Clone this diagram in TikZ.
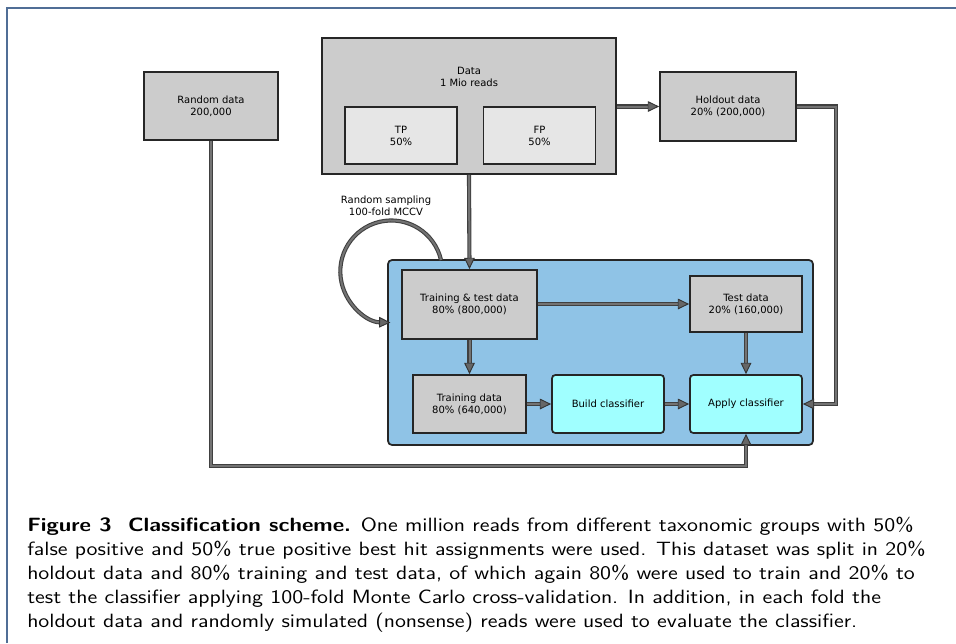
\documentclass[tikz,border=0pt]{standalone}
\usepackage{fontspec}
\usepackage{xcolor}
\newfontfamily\diagfont{DejaVu Sans}
\usetikzlibrary{arrows.meta,calc}
\definecolor{boxgray}{RGB}{204,204,204}
\definecolor{lightgray}{RGB}{230,230,230}
\definecolor{cvblue}{RGB}{143,195,230}
\definecolor{clscyan}{RGB}{160,255,255}
\definecolor{framecol}{RGB}{80,110,150}
\newdimen\px \px=0.75pt

\begin{document}
\begin{tikzpicture}[x=0.75pt,y=-0.75pt,
box/.style={draw=black!85,line width=1.3pt,fill=boxgray,inner sep=0pt,align=center,font=\diagfont\fontsize{7.5}{9}\selectfont},
subbox/.style={box,fill=lightgray},
clsbox/.style={box,fill=clscyan,rounded corners=2.5pt},
flow/.style={draw=black!75,line width=0.8pt,double=black!55,double distance=1.5pt,-{Triangle[length=8.5pt,width=8pt,fill=black!60,color=black!80,line width=0.7pt]}},
caption/.style={anchor=base west,inner sep=0pt,font=\sffamily\fontsize{14.4}{18}\selectfont}]
\useasboundingbox (0,0) rectangle (956,643);
\draw[framecol,line width=0.8pt] (7,643) -- (7,8) -- (956,8);

\node[box,minimum width=134\px,minimum height=68\px] (rnd) at (211,106) {Random data\\200,000};
\node[box,minimum width=294\px,minimum height=136\px] (data) at (469,106) {};
\node[font=\diagfont\fontsize{7.5}{9}\selectfont,align=center] (datalbl) at (469,77) {Data\\1 Mio reads};
\node[subbox,minimum width=112\px,minimum height=57\px] (tp) at (401,135.5) {TP\\50\%};
\node[subbox,minimum width=112\px,minimum height=57\px] (fp) at (539.5,135.5) {FP\\50\%};
\node[box,minimum width=136\px,minimum height=69\px] (hold) at (728,106.5) {Holdout data\\20\% (200,000)};

\node[draw=black!85,line width=1.3pt,fill=cvblue,rounded corners=3pt,minimum width=425\px,minimum height=185\px] (cv) at (600.5,352.5) {};
\node[box,minimum width=135\px,minimum height=69\px] (tt) at (469.5,304.5) {Training \& test data\\80\% (800,000)};
\node[box,minimum width=112\px,minimum height=56\px] (test) at (746,304) {Test data\\20\% (160,000)};
\node[box,minimum width=113\px,minimum height=58\px] (train) at (469.5,404) {Training data\\80\% (640,000)};
\node[clsbox,minimum width=112\px,minimum height=58\px] (build) at (608,404) {Build classifier};
\node[clsbox,minimum width=112\px,minimum height=58\px] (apply) at (746,404) {Apply classifier};

\node[font=\diagfont\fontsize{7.5}{9}\selectfont,align=center] (mccv) at (386,206) {Random sampling\\100-fold MCCV};
\coordinate (loopstart) at (441,260);

\draw[flow] (data.south) -- (tt.north);
\draw[flow] (data.east |- hold.west) -- (hold.west);
\draw[flow] (hold.east) -- ++(39,0) |- (apply.east);
\draw[flow] (rnd.south) -- ++(0,325) -| (apply.south);
\draw[flow] (loopstart) arc[start angle=13,end angle=269,radius=38.25pt];
\draw[flow] (tt.east |- test.west) -- (test.west);
\draw[flow] (tt.south) -- (train.north);
\draw[flow] (test.south) -- (apply.north);
\draw[flow] (train.east) -- (build.west);
\draw[flow] (build.east) -- (apply.west);

\node[caption] (cap1) at (27,531.7) {\scalebox{1.163}[1]{\textbf{Figure 3\ \ Classification scheme.} One million reads from different taxonomic groups with 50\%}};
\node[caption] (cap2) at (27,555.7) {\scalebox{1.163}[1]{false positive and 50\% true positive best hit assignments were used. This dataset was split in 20\%}};
\node[caption] (cap3) at (27,579.7) {\scalebox{1.163}[1]{holdout data and 80\% training and test data, of which again 80\% were used to train and 20\% to}};
\node[caption] (cap4) at (27,603.7) {\scalebox{1.163}[1]{test the classifier applying 100-fold Monte Carlo cross-validation. In addition, in each fold the}};
\node[caption] (cap5) at (27,627.7) {\scalebox{1.163}[1]{holdout data and randomly simulated (nonsense) reads were used to evaluate the classifier.}};
\end{tikzpicture}
\end{document}
